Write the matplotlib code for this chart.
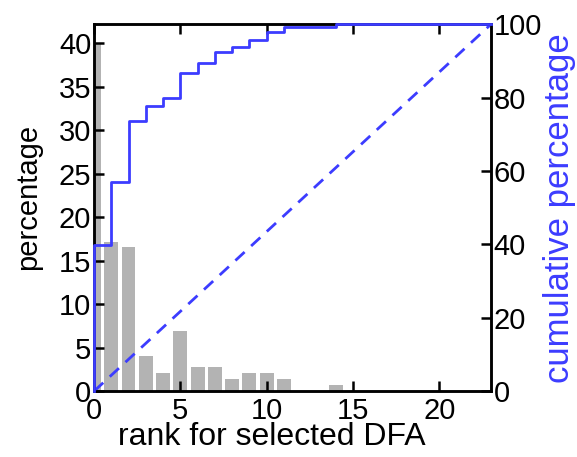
import matplotlib
matplotlib.use("Agg")
import matplotlib.pyplot as plt
import numpy as np

# percentage of cases per rank of the selected DFA
ranks = list(range(15))
percentage = [40.0, 17.2, 16.6, 4.1, 2.1, 6.9, 2.8, 2.8, 1.4, 2.1, 2.1, 1.4, 0.0, 0.0, 0.7]
rank_max = 23

BLUE = "#3c3cff"
GREY = "#b3b3b3"

plt.rcParams["font.family"] = ["Liberation Sans", "DejaVu Sans"]
plt.rcParams["font.size"] = 21

fig = plt.figure(figsize=(5.77, 4.57), dpi=100)
ax = fig.add_axes([0.163, 0.144, 0.688, 0.803])

ax.bar(ranks, percentage, width=0.8, color=GREY, zorder=1)
ax.set_xlim(0, rank_max)
ax.set_ylim(0, 42.2)
ax.set_xticks([0, 5, 10, 15, 20])
ax.set_yticks([0, 5, 10, 15, 20, 25, 30, 35, 40])
ax.set_xlabel("rank for selected DFA", fontsize=23)
ax.xaxis.set_label_coords(0.447, -0.085, transform=ax.transAxes)
ax.set_ylabel("percentage", fontsize=21)
ax.yaxis.set_label_coords(-0.132, 0.53, transform=ax.transAxes)
ax.tick_params(direction="in", length=7, width=1.8, top=True, pad=2)
ax.tick_params(axis="x", pad=4)
ax.tick_params(axis="y", right=False)

ax2 = ax.twinx()
cum = np.cumsum(percentage)
cum = cum / cum[-1] * 100
step_x = [0] + ranks + [rank_max]
step_y = [0] + list(cum) + [cum[-1]]
ax2.step(step_x, step_y, where="post", color=BLUE, lw=2, clip_on=False, zorder=3)
ax2.plot([0, rank_max], [0, 100], color=BLUE, lw=2, ls=(0, (4.5, 3.2)))
ax2.set_ylim(0, 100)
ax2.set_yticks([0, 20, 40, 60, 80, 100])
ax2.tick_params(direction="in", length=7, width=1.8, pad=2)
ax2.set_ylabel("cumulative percentage", color=BLUE, fontsize=25)
ax2.yaxis.set_label_coords(1.13, 0.5, transform=ax2.transAxes)

for a in (ax, ax2):
    for s in a.spines.values():
        s.set_linewidth(1.8)

fig.savefig("out.png", dpi=100)
